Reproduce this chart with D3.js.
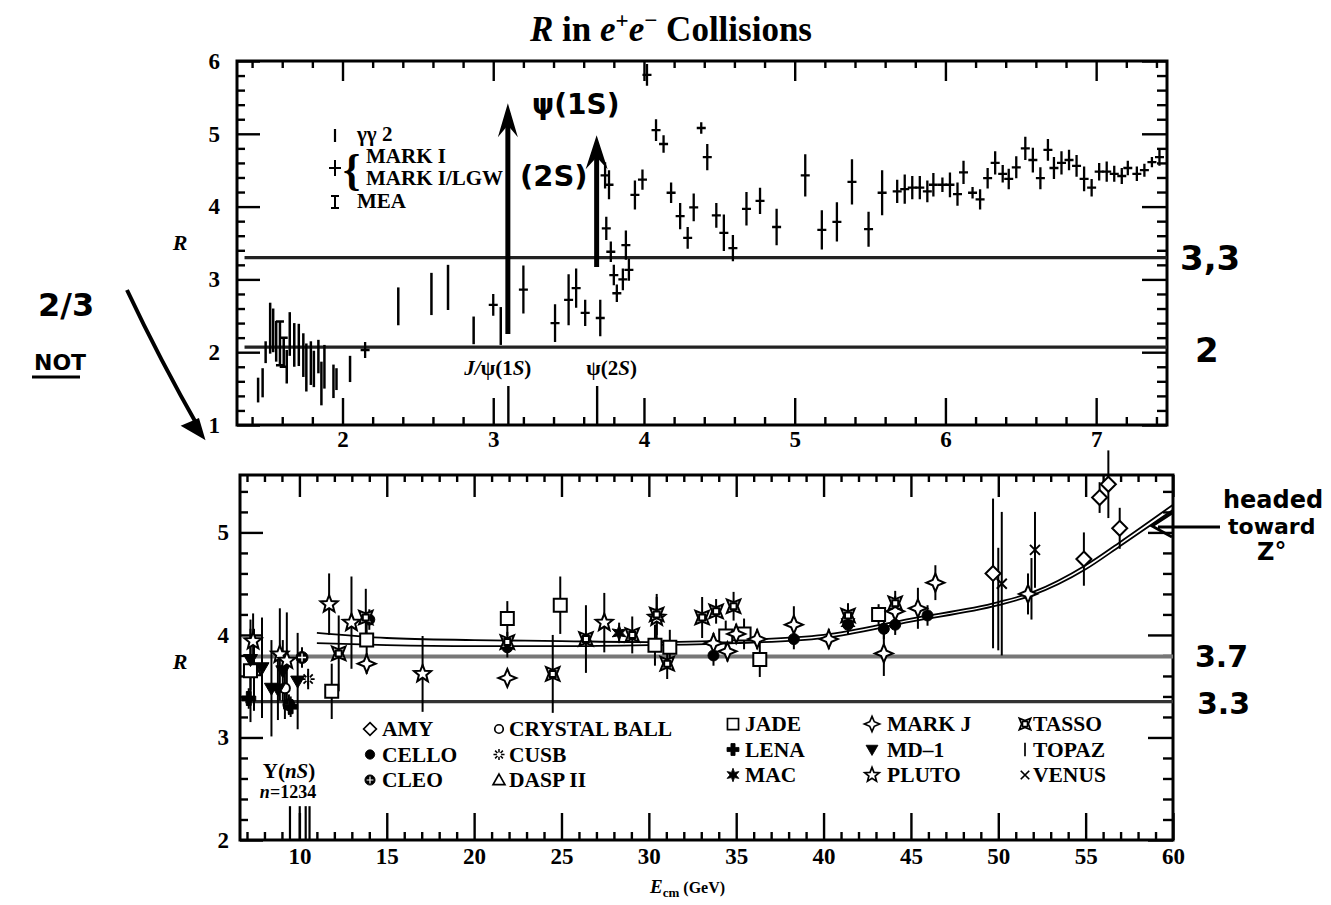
<!DOCTYPE html>
<html><head><meta charset="utf-8">
<script src="https://cdn.jsdelivr.net/npm/d3@7"></script>
<style>
body{margin:0;background:#fff;}
svg text{font-family:"Liberation Serif","DejaVu Serif",serif;font-weight:bold;fill:#000;}
svg text.hand{font-family:"DejaVu Sans",sans-serif;font-weight:bold;}
</style></head><body>
<svg id="c" width="1331" height="905"></svg>
<script>
// ---------------- TOP PANEL DATA (E in GeV, R, error) ----------------
const ggE   = [1.44,1.47,1.49,1.52,1.54,1.56,1.63,1.65,1.68,1.71,1.74,1.76,1.79,1.81,1.84,1.86,1.88,1.94,1.96,2.05,2.37,2.59,2.70,2.87,3.05];
const ggR   = [1.48,1.58,2.00,2.33,2.30,2.15,1.80,2.25,2.10,2.10,1.96,1.79,1.85,1.77,1.94,1.57,1.80,1.60,1.63,1.77,2.63,2.80,2.89,2.30,2.36];
const ggErr = [0.17,0.20,0.15,0.35,0.30,0.28,0.23,0.30,0.30,0.29,0.30,0.33,0.30,0.25,0.23,0.30,0.30,0.23,0.15,0.18,0.26,0.29,0.31,0.19,0.26];

const meaE   = [1.585,1.61];
const meaR   = [2.12,2.00];
const meaErr = [0.30,0.20];

const markE = [2.15,3.00,3.20,3.41,3.50,3.55,3.61,3.71,3.742,3.75,3.768,3.78,3.80,3.82,3.86,3.88,3.90,3.94,3.99,4.02,4.08,4.13,4.18,4.24,4.29,4.33,4.38,4.42,4.48,4.53,4.59,4.68,4.77,4.88,5.07,5.18,5.28,5.38,5.49,5.58,5.68,5.73,5.78,5.83,5.88,5.92,5.98,6.03,6.08,6.12,6.18,6.23,6.28,6.33,6.38,6.42,6.47,6.53,6.58,6.63,6.68,6.72,6.77,6.82,6.87,6.92,6.97,7.02,7.07,7.12,7.17,7.21,7.27,7.32,7.37,7.42];
const markR = [2.03,2.65,2.86,2.40,2.72,2.88,2.54,2.47,4.43,3.70,4.30,3.38,3.06,2.81,3.00,3.47,3.13,4.16,4.37,5.81,5.05,4.86,4.19,3.87,3.57,3.99,5.08,4.68,3.88,3.64,3.43,3.97,4.08,3.72,4.43,3.68,3.79,4.34,3.69,4.19,4.21,4.24,4.26,4.26,4.21,4.30,4.30,4.30,4.17,4.47,4.19,4.10,4.39,4.60,4.45,4.38,4.54,4.80,4.64,4.39,4.78,4.53,4.60,4.64,4.56,4.38,4.26,4.48,4.48,4.45,4.42,4.53,4.45,4.50,4.61,4.68];
const markErr = [0.11,0.15,0.33,0.26,0.35,0.27,0.18,0.25,0.18,0.16,0.20,0.14,0.14,0.12,0.15,0.20,0.15,0.20,0.14,0.15,0.15,0.12,0.14,0.18,0.15,0.19,0.08,0.18,0.17,0.25,0.18,0.23,0.18,0.25,0.29,0.27,0.27,0.31,0.24,0.31,0.16,0.20,0.16,0.16,0.15,0.16,0.10,0.17,0.16,0.16,0.08,0.14,0.14,0.16,0.12,0.14,0.15,0.16,0.17,0.15,0.15,0.15,0.16,0.14,0.15,0.17,0.12,0.12,0.14,0.11,0.11,0.10,0.10,0.09,0.07,0.12];

const topRefLines = [3.3, 2.07];
const resonanceE = [3.097, 3.686];
const topXTicks = [2,3,4,5,6,7];
const topYTicks = [1,2,3,4,5,6];

// ---------------- BOTTOM PANEL DATA ----------------
const amyE=[49.7,54.9,55.8,56.3,56.95], amyR=[4.60,4.74,5.34,5.47,5.04], amyErr=[0.73,0.26,0.15,0.33,0.20];
const celloE=[14.0,21.9,33.7,38.3,41.4,43.45,44.1,45.95], celloR=[4.15,3.88,3.80,3.96,4.10,4.06,4.10,4.19], celloErr=[0.1,0.1,0.1,0.1,0.1,0.1,0.1,0.1];
const cleoE=[10.15,9.4], cleoR=[3.78,3.32], cleoErr=[0.1,0.1];
const cbE=[9.17], cbR=[3.48], cbErr=[0.3];
const cusbE=[10.5], cusbR=[3.57], cusbErr=[0.1];
const daspE=[7.4], daspR=[3.66], daspErr=[0.4];
const jadeE=[7.2,11.85,13.85,21.9,24.93,30.35,31.2,34.4,35.45,36.35,43.15], jadeR=[3.65,3.45,3.95,4.16,4.29,3.90,3.88,3.99,4.01,3.76,4.20], jadeErr=[0.5,0.27,0.15,0.17,0.28,0.2,0.17,0.15,0.15,0.17,0.1];
const lenaE=[7.1,9.5], lenaR=[3.38,3.30], lenaErr=[0.1,0.1];
const macE=[28.3,41.4], macR=[4.02,4.12], macErr=[0.1,0.1];
const markjE=[13.85,21.9,33.7,34.5,35.0,36.2,38.3,40.3,43.45,44.1,45.4,46.4,51.7], markjR=[3.72,3.58,3.92,3.84,4.01,3.96,4.10,3.96,3.82,4.23,4.26,4.51,4.40], markjErr=[0.1,0.08,0.1,0.1,0.1,0.1,0.18,0.1,0.22,0.15,0.2,0.17,0.2];
const md1E=[7.2,7.86,8.4,8.77,9.05,9.9], md1R=[3.76,3.68,3.48,3.47,3.65,3.55], md1Err=[0.3,0.49,0.47,0.3,0.3,0.47];
const plutoE=[7.35,8.88,9.28,11.7,12.98,17.05,27.45,30.45], plutoR=[3.94,3.81,3.75,4.30,4.12,3.62,4.12,4.17], plutoErr=[0.27,0.45,0.47,0.30,0.45,0.37,0.29,0.2];
const tassoE=[12.25,13.8,21.9,24.5,26.4,29.05,30.45,31.05,33.05,33.85,34.85,41.4,44.1], tassoR=[3.82,4.17,3.93,3.62,3.96,4.00,4.20,3.72,4.17,4.23,4.28,4.19,4.31], tassoErr=[0.37,0.28,0.1,0.38,0.33,0.18,0.2,0.15,0.2,0.12,0.14,0.12,0.12];
const topazE=[50.0,51.9], topazR=[4.35,4.45], topazErr=[0.5,0.3];
const venusE=[50.2,52.1], venusR=[4.50,4.83], venusErr=[0.7,0.37];

const qcdE    = [11,15,20,25,30,35,40,45,50,52,55,57,60];
const qcdUpper= [4.02,3.97,3.95,3.94,3.93,3.95,4.00,4.16,4.32,4.42,4.68,4.91,5.27];
const qcdLower= [3.92,3.90,3.89,3.89,3.90,3.92,3.97,4.13,4.29,4.39,4.64,4.87,5.22];
const upsilonE = [9.46,10.02,10.36,10.58];
const botRefLines = [3.79, 3.35];
const botXTicks = [10,15,20,25,30,35,40,45,50,55,60];
const botYTicks = [2,3,4,5];

// ---------------- SETUP ----------------
const svg = d3.select("#c");
svg.append("rect").attr("width",1331).attr("height",905).attr("fill","#fff");

const xT = d3.scaleLinear().domain([1.3, 7.47]).range([237, 1167]);
const yT = d3.scaleLinear().domain([1, 6]).range([425, 61]);
const xB = d3.scaleLinear().domain([6.6, 60]).range([240, 1173]);
const yB = d3.scaleLinear().domain([2, 5.56]).range([840, 475]);

const TICKFS = 23;
function styleAxis(s, fs){
  s.select(".domain").remove();
  s.attr("font-family", null).attr("font-size", null).attr("fill", null);
  s.selectAll(".tick line").attr("stroke","#000").attr("stroke-width",2.4);
  s.selectAll(".tick text").attr("font-size", fs||TICKFS).attr("fill","#000");
}
function addAxis(g, gen, tr, fs){
  g.append("g").attr("transform", tr).call(gen).call(s=>styleAxis(s, fs));
}
function frameAxes(x, y, cfg){
  const g = svg.append("g");
  const [x0,x1] = x.range(), [y0,y1] = y.range();
  addAxis(g, d3.axisBottom(x).tickValues(cfg.xMinor).tickSize(-8).tickFormat(""), `translate(0,${y0})`);
  addAxis(g, d3.axisBottom(x).tickValues(cfg.xMajor).tickSize(-cfg.xMajLen).tickPadding(cfg.xPad).tickFormat(d3.format("d")), `translate(0,${y0})`);
  addAxis(g, d3.axisTop(x).tickValues(cfg.xMinor).tickSize(-7).tickFormat(""), `translate(0,${y1})`);
  addAxis(g, d3.axisTop(x).tickValues(cfg.xMajor).tickSize(-cfg.xTopLen).tickFormat(""), `translate(0,${y1})`);
  addAxis(g, d3.axisLeft(y).tickValues(cfg.yMinor).tickSize(-8).tickFormat(""), `translate(${x0},0)`);
  addAxis(g, d3.axisLeft(y).tickValues(cfg.yMajor).tickSize(-23).tickPadding(cfg.yPad).tickFormat(d3.format("d")), `translate(${x0},0)`);
  addAxis(g, d3.axisRight(y).tickValues(cfg.yMinor).tickSize(-10).tickFormat(""), `translate(${x1},0)`);
  addAxis(g, d3.axisRight(y).tickValues(cfg.yMajor).tickSize(-25).tickFormat(""), `translate(${x1},0)`);
  g.append("rect").attr("x",x0).attr("y",y1).attr("width",x1-x0).attr("height",y0-y1)
    .attr("fill","none").attr("stroke","#000").attr("stroke-width",3);
  return g;
}

// ---------------- TITLE ----------------
const title = svg.append("text").attr("x",671).attr("y",41).attr("text-anchor","middle").attr("font-size",35);
title.append("tspan").attr("font-style","italic").text("R");
title.append("tspan").text(" in ");
title.append("tspan").attr("font-style","italic").text("e");
title.append("tspan").attr("dy",-13).attr("font-size",23).text("+");
title.append("tspan").attr("dy",13).attr("font-style","italic").text("e");
title.append("tspan").attr("dy",-13).attr("font-size",23).text("−");
title.append("tspan").attr("dy",13).text(" Collisions");

// ---------------- TOP PANEL ----------------
const tMinorX = d3.range(14,75,2).map(v=>v/10).filter(v=>!Number.isInteger(v));
const tMinorY = d3.range(12,60,2).map(v=>v/10).filter(v=>!Number.isInteger(v));
frameAxes(xT, yT, {xMinor:tMinorX, xMajor:topXTicks, xMajLen:27, xTopLen:20, xPad:6,
                   yMinor:tMinorY, yMajor:topYTicks, yPad:17});
addAxis(svg.append("g"), d3.axisBottom(xT).tickValues(resonanceE).tickSize(-39).tickFormat(""), `translate(0,425)`);
svg.append("g").selectAll("text").data(resonanceE).join("text")
  .attr("x",(d,i)=>xT(d)+(i===0?-10:15)).attr("y",375).attr("text-anchor","middle").attr("font-size",21)
  .each(function(d,i){
    const t=d3.select(this);
    if(i===0){ t.append("tspan").attr("font-style","italic").text("J/"); t.append("tspan").text("ψ(1"); t.append("tspan").attr("font-style","italic").text("S"); t.append("tspan").text(")"); }
    else { t.append("tspan").text("ψ(2"); t.append("tspan").attr("font-style","italic").text("S"); t.append("tspan").text(")"); }
  });

svg.append("g").selectAll("line").data(topRefLines).join("line")
  .attr("x1",xT(1.35)).attr("x2",xT(7.47)).attr("y1",d=>yT(d)).attr("y2",d=>yT(d))
  .attr("stroke","#222").attr("stroke-width",3.2);

const gT = svg.append("g").attr("stroke","#000");
gT.selectAll("line.gg").data(ggE.map((e,i)=>({E:e,R:ggR[i],e:ggErr[i]}))).join("line")
  .attr("x1",d=>xT(d.E)).attr("x2",d=>xT(d.E)).attr("y1",d=>yT(d.R-d.e)).attr("y2",d=>yT(d.R+d.e)).attr("stroke-width",2.5);
const meaD = meaE.map((e,i)=>({E:e,R:meaR[i],e:meaErr[i]}));
gT.selectAll("path.mea").data(meaD).join("path")
  .attr("d",d=>{const x=xT(d.E),a=yT(d.R-d.e),b=yT(d.R+d.e);return `M${x},${a}V${b}M${x-4},${a}H${x+4}M${x-4},${b}H${x+4}`;})
  .attr("stroke-width",2.5).attr("fill","none");
const markD = markE.map((e,i)=>({E:e,R:markR[i],e:markErr[i]}));
gT.selectAll("path.mk").data(markD).join("path")
  .attr("d",d=>{const x=xT(d.E),y=yT(d.R);return `M${x},${yT(d.R-d.e)}V${yT(d.R+d.e)}M${x-4.5},${y}H${x+4.5}`;})
  .attr("stroke-width",2.3).attr("fill","none");

// top legend
svg.append("line").attr("x1",335).attr("x2",335).attr("y1",129).attr("y2",142).attr("stroke","#000").attr("stroke-width",2.2);
svg.append("path").attr("d","M335,160V176M329,168H341").attr("stroke","#000").attr("stroke-width",2).attr("fill","none");
svg.append("path").attr("d","M335,196V208M331,196H339M331,208H339").attr("stroke","#000").attr("stroke-width",2).attr("fill","none");
svg.append("text").attr("x",357).attr("y",141).attr("font-size",21).attr("font-weight","normal").text("γγ 2");
svg.append("text").attr("x",343).attr("y",185).attr("font-size",44).attr("font-weight","normal").text("{");
svg.append("text").attr("x",366).attr("y",163).attr("font-size",21).text("MARK I");
svg.append("text").attr("x",366).attr("y",185).attr("font-size",21).text("MARK I/LGW");
svg.append("text").attr("x",357).attr("y",208).attr("font-size",21).text("MEA");

svg.append("text").attr("x",180).attr("y",250).attr("font-size",22).attr("font-style","italic").attr("text-anchor","middle").text("R");

// ---------------- BOTTOM PANEL ----------------
const bMinorX = d3.range(7,60,1).filter(v=>v%5!==0);
const bMinorY = d3.range(22,56,2).map(v=>v/10).filter(v=>!Number.isInteger(v));
frameAxes(xB, yB, {xMinor:bMinorX, xMajor:botXTicks, xMajLen:27, xTopLen:22, xPad:8,
                   yMinor:bMinorY, yMajor:botYTicks, yPad:11});

svg.append("g").selectAll("line").data(upsilonE).join("line")
  .attr("x1",d=>xB(d)).attr("x2",d=>xB(d)).attr("y1",yB(2)).attr("y2",yB(2.33))
  .attr("stroke","#000").attr("stroke-width",2.2);
const ut = svg.append("text").attr("x",289).attr("y",778).attr("text-anchor","middle").attr("font-size",21).attr("font-weight","normal");
ut.append("tspan").text("Υ(");
ut.append("tspan").attr("font-style","italic").text("nS");
ut.append("tspan").text(")");
const nt = svg.append("text").attr("x",288).attr("y",798).attr("text-anchor","middle").attr("font-size",18);
nt.append("tspan").attr("font-style","italic").text("n");
nt.append("tspan").text("=1234");

svg.append("line").attr("x1",xB(6.9)).attr("x2",xB(60)).attr("y1",yB(botRefLines[0])).attr("y2",yB(botRefLines[0]))
  .attr("stroke","#777").attr("stroke-width",4);
svg.append("line").attr("x1",xB(6.9)).attr("x2",xB(60)).attr("y1",yB(botRefLines[1])).attr("y2",yB(botRefLines[1]))
  .attr("stroke","#333").attr("stroke-width",3.2);

const qline = d3.line().x(d=>xB(d[0])).y(d=>yB(d[1])).curve(d3.curveMonotoneX);
[qcdUpper, qcdLower].forEach(arr=>{
  svg.append("path").attr("d", qline(qcdE.map((e,i)=>[e,arr[i]]))).attr("fill","none").attr("stroke","#000").attr("stroke-width",1.8);
});

function starPath(n, ro, ri, rot){
  const pts=[]; for(let i=0;i<2*n;i++){const r=i%2?ri:ro;const a=rot+i*Math.PI/n;pts.push([r*Math.sin(a),-r*Math.cos(a)]);}
  return "M"+pts.map(p=>p[0].toFixed(2)+","+p[1].toFixed(2)).join("L")+"Z";
}
const circ = r=>`M${r},0A${r},${r} 0 1,1 ${-r},0A${r},${r} 0 1,1 ${r},0Z`;
function drawSym(g, type, x, y, sc){
  const t = `translate(${x},${y}) scale(${sc||1})`;
  const open = {fill:"#fff", stroke:"#000", sw:2};
  const filled = {fill:"#000", stroke:"#000", sw:1};
  const add = (d, st)=> g.append("path").attr("d",d).attr("transform",t).attr("fill",st.fill).attr("stroke",st.stroke).attr("stroke-width",st.sw);
  switch(type){
    case "AMY": add("M0,-7.5L7.5,0L0,7.5L-7.5,0Z", open); break;
    case "CELLO": add(circ(5.5), filled); break;
    case "CLEO": add(circ(6), filled); add("M-4,0H4M0,-4V4", {fill:"none",stroke:"#fff",sw:1.4}); break;
    case "CRYSTAL BALL": add(circ(5), open); break;
    case "CUSB": { let d=""; for(let i=0;i<8;i++){const a=i*Math.PI/4;d+=`M${(2.5*Math.cos(a)).toFixed(2)},${(2.5*Math.sin(a)).toFixed(2)}L${(6.5*Math.cos(a)).toFixed(2)},${(6.5*Math.sin(a)).toFixed(2)}`;} add(d,{fill:"none",stroke:"#000",sw:1.8}); break; }
    case "DASP II": add("M0,-7L7,5.5L-7,5.5Z", open); break;
    case "JADE": add("M-6.5,-6.5H6.5V6.5H-6.5Z", open); break;
    case "LENA": add("M-2.4,-7H2.4V-2.4H7V2.4H2.4V7H-2.4V2.4H-7V-2.4H-2.4Z", filled); break;
    case "MAC": add(starPath(6,8,3.5,0), filled); break;
    case "MARK J": add(starPath(4,9,3.8,0), open); break;
    case "MD-1": add("M-7,-5L7,-5L0,7Z", filled); break;
    case "PLUTO": add(starPath(5,9,3.9,0), open); break;
    case "TASSO": add(starPath(4,9.5,4,Math.PI/4), open); add("M-3,-3H3V3H-3Z", open); break;
    case "TOPAZ": add("M0,-8V8", {fill:"none",stroke:"#000",sw:2}); break;
    case "VENUS": add("M-5,-5L5,5M5,-5L-5,5", {fill:"none",stroke:"#000",sw:2}); break;
  }
}

const expts = [
  {name:"AMY", E:amyE, R:amyR, err:amyErr},
  {name:"CELLO", E:celloE, R:celloR, err:celloErr},
  {name:"CLEO", E:cleoE, R:cleoR, err:cleoErr},
  {name:"CRYSTAL BALL", E:cbE, R:cbR, err:cbErr},
  {name:"CUSB", E:cusbE, R:cusbR, err:cusbErr},
  {name:"DASP II", E:daspE, R:daspR, err:daspErr},
  {name:"JADE", E:jadeE, R:jadeR, err:jadeErr},
  {name:"LENA", E:lenaE, R:lenaR, err:lenaErr},
  {name:"MAC", E:macE, R:macR, err:macErr},
  {name:"MARK J", E:markjE, R:markjR, err:markjErr},
  {name:"MD-1", E:md1E, R:md1R, err:md1Err},
  {name:"PLUTO", E:plutoE, R:plutoR, err:plutoErr},
  {name:"TASSO", E:tassoE, R:tassoR, err:tassoErr},
  {name:"TOPAZ", E:topazE, R:topazR, err:topazErr},
  {name:"VENUS", E:venusE, R:venusR, err:venusErr}
];
const legendLabels = ["AMY","CELLO","CLEO","CRYSTAL BALL","CUSB","DASP II","JADE","LENA","MAC","MARK J","MD–1","PLUTO","TASSO","TOPAZ","VENUS"];

const gBars = svg.append("g").attr("stroke","#000").attr("stroke-width",2);
expts.forEach(ex=>{
  gBars.append("g").selectAll("line").data(ex.E.map((e,i)=>({E:e,R:ex.R[i],e:ex.err[i]}))).join("line")
    .attr("x1",d=>xB(d.E)).attr("x2",d=>xB(d.E)).attr("y1",d=>yB(d.R-d.e)).attr("y2",d=>yB(d.R+d.e));
});
const gSym = svg.append("g");
expts.forEach(ex=>{ if(ex.name==="TOPAZ") return; ex.E.forEach((e,i)=>drawSym(gSym, ex.name, xB(e), yB(ex.R[i]))); });

const colSymX=[370,499,733,872,1025], colTxtX=[382,509,745,887,1033], colY=[736,736,731,731,731];
expts.forEach((ex,i)=>{
  const c=Math.floor(i/3), r=i%3, y=colY[c]+r*25.5;
  drawSym(svg, ex.name, colSymX[c], y-7, 0.85);
  svg.append("text").attr("x",colTxtX[c]).attr("y",y).attr("font-size",21.5).text(legendLabels[i]);
});

svg.append("text").attr("x",180).attr("y",669).attr("font-size",22).attr("font-style","italic").attr("text-anchor","middle").text("R");
const xl = svg.append("text").attr("x",650).attr("y",893).attr("font-size",19);
xl.append("tspan").attr("font-style","italic").text("E");
xl.append("tspan").attr("dy",4).attr("font-size",13).text("cm");
xl.append("tspan").attr("dy",-4).attr("font-size",16).text(" (GeV)");

// ---------------- HANDWRITTEN ANNOTATIONS ----------------
const ink = svg.append("g");
function arrowUp(E, r0, r1, hw){
  const x=xT(E), yb=yT(r0), yt=yT(r1);
  ink.append("line").attr("x1",x).attr("x2",x).attr("y1",yb).attr("y2",yt+10).attr("stroke","#000").attr("stroke-width",5);
  ink.append("path").attr("d",`M${x},${yt}L${x+hw},${yt+34}L${x},${yt+22}L${x-hw},${yt+34}Z`).attr("fill","#000");
}
arrowUp(resonanceE[0], 2.25, 5.42, 10);
arrowUp(resonanceE[1], 3.17, 4.98, 11);
ink.append("text").attr("class","hand").attr("x",532).attr("y",114).attr("font-size",28).text("ψ(1S)");
ink.append("text").attr("class","hand").attr("x",520).attr("y",186).attr("font-size",29).text("(2S)");

ink.append("text").attr("class","hand").attr("x",38).attr("y",316).attr("font-size",32).text("2/3");
ink.append("text").attr("class","hand").attr("x",34).attr("y",370).attr("font-size",22).attr("font-weight","normal").text("NOT");
ink.append("line").attr("x1",32).attr("x2",80).attr("y1",377).attr("y2",377).attr("stroke","#000").attr("stroke-width",3);
ink.append("path").attr("d","M127,290Q160,360 200,430").attr("fill","none").attr("stroke","#000").attr("stroke-width",4);
ink.append("path").attr("d","M203,437L184,426L198,420Z").attr("fill","#000").attr("stroke","#000").attr("stroke-width",3);

ink.append("text").attr("class","hand").attr("x",1180).attr("y",270).attr("font-size",34).attr("font-weight","normal").text("3,3");
ink.append("text").attr("class","hand").attr("x",1195).attr("y",362).attr("font-size",34).attr("font-weight","normal").text("2");

ink.append("text").attr("class","hand").attr("x",1223).attr("y",508).attr("font-size",24).text("headed");
ink.append("text").attr("class","hand").attr("x",1228).attr("y",534).attr("font-size",22).attr("font-weight","normal").text("toward");
ink.append("text").attr("class","hand").attr("x",1257).attr("y",560).attr("font-size",24).text("Z°");
ink.append("path").attr("d","M1220,527H1158M1172,513L1152,526L1172,537").attr("fill","none").attr("stroke","#000").attr("stroke-width",3);

ink.append("text").attr("class","hand").attr("x",1195).attr("y",667).attr("font-size",30).attr("font-weight","normal").text("3.7");
ink.append("text").attr("class","hand").attr("x",1197).attr("y",714).attr("font-size",30).attr("font-weight","normal").text("3.3");
</script></body></html>
